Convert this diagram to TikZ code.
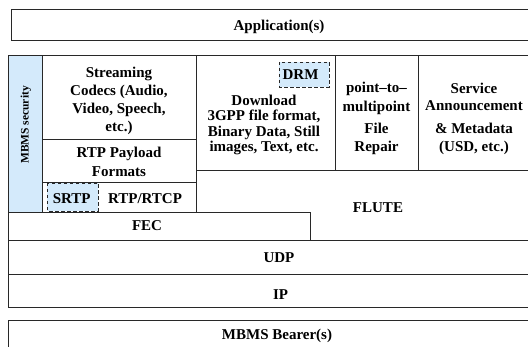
\documentclass[tikz,border=0pt]{standalone}
\usepackage{fontspec}
\setmainfont{Liberation Serif}
\definecolor{secblue}{RGB}{212,234,251}
\definecolor{edgegray}{RGB}{40,40,40}

\begin{document}
\begin{tikzpicture}[x=1pt,y=-1pt,
    layer/.style={draw=edgegray,line width=0.9pt},
    dashbox/.style={draw=edgegray,line width=0.8pt,dash pattern=on 3.5pt off 2.5pt,fill=secblue},
    txt/.style={font=\bfseries\fontsize{15}{18}\selectfont,inner sep=0pt,align=center}]
    \useasboundingbox (0,0) rectangle (528,347);
    \clip (0,0) rectangle (528,347);

    % Application layer
    \draw[layer] (11.5,9.5) rectangle (535,40);
    \node[txt,anchor=base] (app) at (279,30.7) {Application(s)};

    % MBMS security column
    \draw[layer,fill=secblue] (8.3,55) rectangle (42,212);
    \node[txt,rotate=90,font=\bfseries\fontsize{11.5}{13}\selectfont] (sec) at (26,125) {MBMS security};

    % Streaming side
    \draw[layer] (42,55) rectangle (196,139);
    \draw[layer] (42,139) rectangle (196,182);
    \draw[layer] (42,182) rectangle (196,212);
    \node[txt] (codecs) at (119,100.7) {Streaming\\Codecs (Audio,\\Video, Speech,\\etc.)};
    \node[txt] (payload) at (119,161.6) {RTP Payload\\[0.7pt]Formats};
    \draw[dashbox] (47,183) rectangle (98,211);
    \node[txt,anchor=base] (srtp) at (71.7,203.3) {SRTP};
    \node[txt,anchor=base] (rtp) at (145,203.3) {RTP/RTCP};

    % Download side
    \draw[layer] (196,55) rectangle (335,170);
    \draw[layer] (335,55) rectangle (418,170);
    \draw[layer] (418,55) rectangle (535,170);
    \draw[dashbox] (279,62) rectangle (329,87);
    \node[txt,anchor=base] (drm) at (300.5,80) {DRM};
    \node[txt,font=\bfseries\fontsize{15}{15.3}\selectfont] (download) at (264,125) {Download\\3GPP file format,\\Binary Data, Still\\images, Text, etc.};
    \node[txt] (repair) at (376.5,118.2) {point--to--\\[1pt]multipoint\\[4.6pt]File\\Repair};
    \node[txt] (usd) at (474,118.9) {Service\\[-0.6pt]Announcement\\[4.6pt]\& Metadata\\[0.4pt](USD, etc.)};

    % FLUTE and FEC
    \draw[layer] (196,170) -- (196,212);
    \draw[layer] (8.3,212) rectangle (310,240);
    \node[txt,anchor=base] (fec) at (147,230.7) {FEC};
    \node[txt,anchor=base] (flute) at (378,213) {FLUTE};

    % UDP and IP
    \draw[layer] (8.3,240) rectangle (535,274);
    \draw[layer] (8.3,274) rectangle (535,307);
    \node[txt,anchor=base] (udp) at (279,262.7) {UDP};
    \node[txt,anchor=base] (ip) at (280.5,300) {IP};

    % Bearer
    \draw[layer] (8.3,320.5) rectangle (535,355);
    \node[txt,anchor=base] (bearer) at (277,340) {MBMS Bearer(s)};
\end{tikzpicture}
\end{document}
